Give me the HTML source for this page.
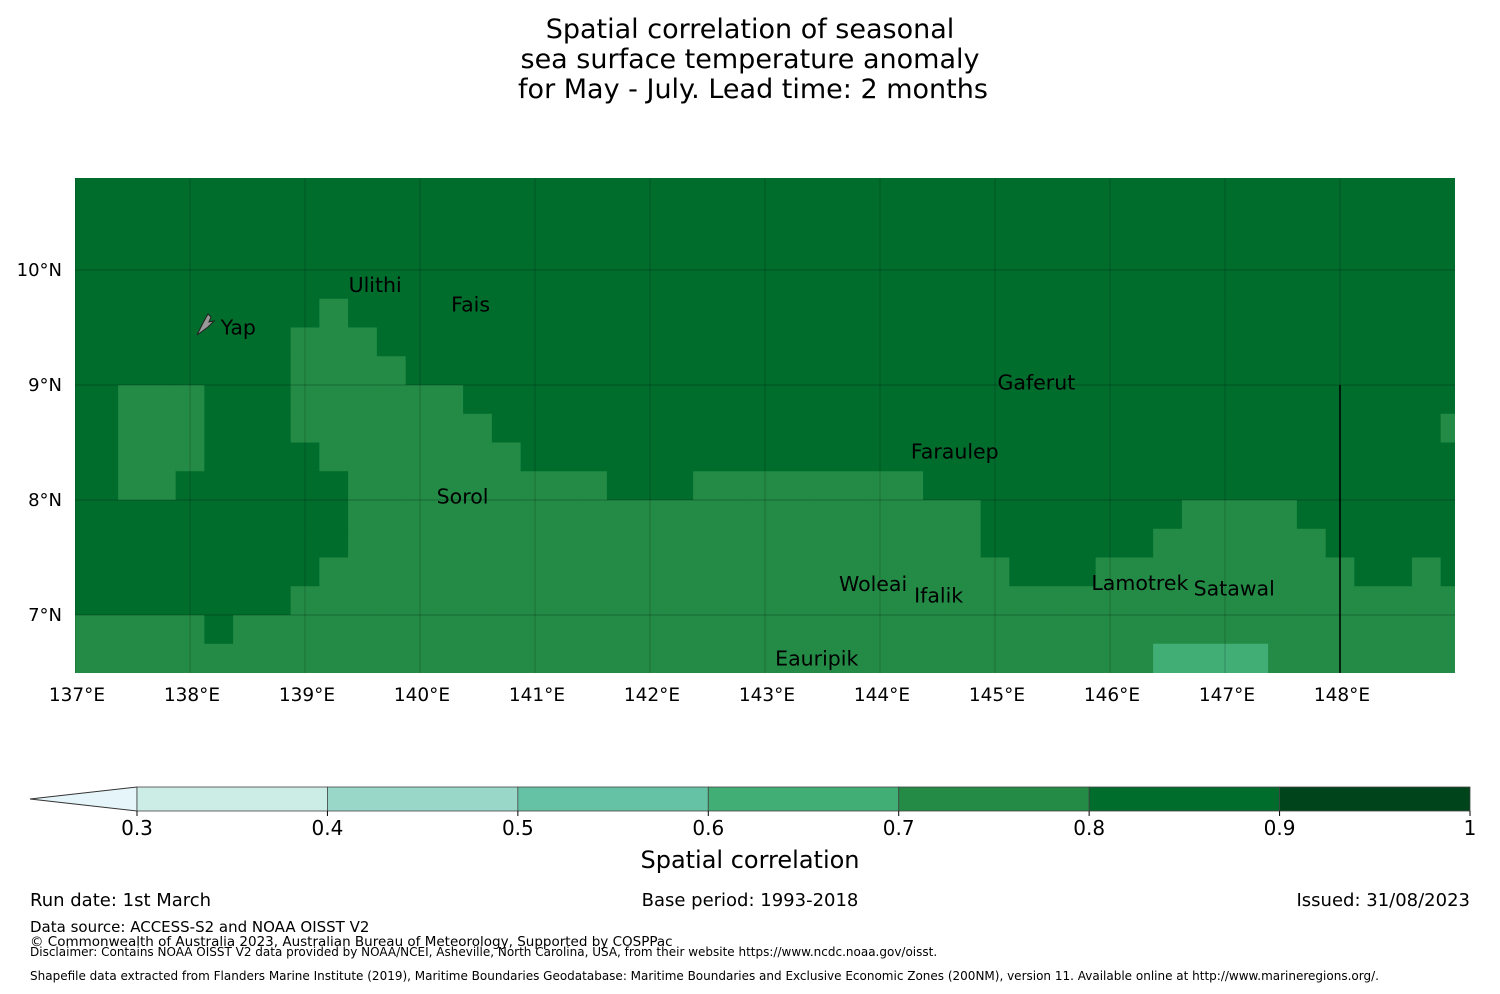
<!DOCTYPE html>
<html><head><meta charset="utf-8"><style>
body{margin:0;background:#fff;width:1500px;height:990px;overflow:hidden;font-family:"DejaVu Sans","Liberation Sans",sans-serif}
svg text{font-family:"DejaVu Sans","Liberation Sans",sans-serif}
</style></head><body>
<svg id="chart" width="1500" height="990">
<text x="750" y="38" font-size="27" text-anchor="middle">Spatial correlation of seasonal</text>
<text x="750" y="68" font-size="27" text-anchor="middle">sea surface temperature anomaly</text>
<text x="753" y="98" font-size="27" text-anchor="middle">for May - July. Lead time: 2 months</text>
<defs><clipPath id="mc"><rect x="75" y="178" width="1380" height="495"/></clipPath></defs>
<g id="cells" clip-path="url(#mc)"></g>
<g id="grid" clip-path="url(#mc)"></g>
<g id="axes"></g>
<g id="islands"></g>
<g id="cbar"></g>
<text x="750" y="868" font-size="24" text-anchor="middle">Spatial correlation</text>
<text x="30" y="906" font-size="18">Run date: 1st March</text>
<text x="750" y="906" font-size="18" text-anchor="middle">Base period: 1993-2018</text>
<text x="1470" y="906" font-size="18" text-anchor="end">Issued: 31/08/2023</text>
<text x="30" y="932" font-size="15">Data source: ACCESS-S2 and NOAA OISST V2</text>
<text x="30" y="946" font-size="13.5">© Commonwealth of Australia 2023, Australian Bureau of Meteorology, Supported by COSPPac</text>
<text x="30" y="956" font-size="12">Disclaimer: Contains NOAA OISST V2 data provided by NOAA/NCEI, Asheville, North Carolina, USA, from their website https://www.ncdc.noaa.gov/oisst.</text>
<text x="30" y="980" font-size="12">Shapefile data extracted from Flanders Marine Institute (2019), Maritime Boundaries Geodatabase: Maritime Boundaries and Exclusive Economic Zones (200NM), version 11. Available online at http://www.marineregions.org/.</text>
</svg>
<script>
// rows from lat 11.0 down to 6.5 (0.25°), cols centred 137.0..149.0 (0.25°); digit d => value d/10+0.05
const rowCodes = [
"8888888888888888888888888888888888888888888888888",
"8888888888888888888888888888888888888888888888888",
"8888888888888888888888888888888888888888888888888",
"8888888888888888888888888888888888888888888888888",
"8888888888888888888888888888888888888888888888888",
"8888888887888888888888888888888888888888888888888",
"8888888877788888888888888888888888888888888888888",
"8888888877778888888888888888888888888888888888888",
"8877788877777788888888888888888888888888888888888",
"8877788877777778888888888888888888888888888888887",
"8877788887777777888888888888888888888888888888888",
"88"+"77"+"888888"+"777777777"+"888"+"77777777"+"8888888888888888888",
"8888888888"+"7777777777777777777777"+"8888888"+"7777"+"888888",
"8888888888"+"7777777777777777777777"+"888888"+"777777"+"88888",
"888888888"+"777777777777777777777777"+"888"+"777777777"+"88"+"7"+"8",
"88888888"+"77777777777777777777777777777777777777777",
"77777"+"8"+"7777777777777777777777777777777777777777777",
"77777777777777777777777777777777777777"+"6666"+"7777777"];
const levels = [0.3,0.4,0.5,0.6,0.7,0.8,0.9,1.0];
const levelColors = ["#ccece6","#99d8c9","#66c2a4","#41ae76","#238b45","#006d2c","#00441b"];
const lonTicks = [137,138,139,140,141,142,143,144,145,146,147,148];
const latTicks = [10,9,8,7];
const islandNames = ["Ulithi","Fais","Yap","Gaferut","Faraulep","Sorol","Woleai","Ifalik","Lamotrek","Satawal","Eauripik"];
const islandLon = [139.61,140.44,138.42,145.36,144.65,140.37,143.94,144.51,146.26,147.08,143.45];
const islandLat = [9.87,9.70,9.50,9.02,8.42,8.03,7.27,7.17,7.28,7.23,6.62];
const cells = rowCodes.map(r => r.split("").map(c => +c/10 + 0.05));
const X = lon => 75 + (lon-137)*115;
const Y = lat => 270 - (lat-10)*115;
const NS="http://www.w3.org/2000/svg";
function mk(t,a,p){const e=document.createElementNS(NS,t);for(const k in a)e.setAttribute(k,a[k]);p.appendChild(e);return e;}
function colorFor(v){for(let i=0;i<levels.length-1;i++)if(v>=levels[i]&&v<levels[i+1])return levelColors[i];return levelColors[6];}
const cg=document.getElementById("cells");
cells.forEach((row,i)=>row.forEach((v,j)=>{
 const lat=11-0.25*i, lon=137+0.25*j;
 const r=mk("rect",{x:X(lon-0.125),y:Y(lat),width:28.75+0.6,height:28.75+0.6,fill:colorFor(v)},cg);
 
 
}));
const gg=document.getElementById("grid");
lonTicks.forEach(l=>mk("line",{x1:X(l),x2:X(l),y1:178,y2:673,stroke:"rgba(0,0,0,0.2)","stroke-width":1},gg));
latTicks.forEach(l=>mk("line",{x1:75,x2:1455,y1:Y(l),y2:Y(l),stroke:"rgba(0,0,0,0.25)","stroke-width":1},gg));
mk("line",{x1:X(148),x2:X(148),y1:Y(9),y2:673,stroke:"#000","stroke-width":1.5},gg);
const ag=document.getElementById("axes");
lonTicks.forEach(l=>{const t=mk("text",{x:X(l)+2,y:701,"font-size":18.5,"text-anchor":"middle"},ag);t.textContent=l+"°E";
 
 });
latTicks.forEach(l=>{const t=mk("text",{x:62,y:Y(l)+6,"font-size":18,"text-anchor":"end"},ag);t.textContent=l+"°N";
 
 });
const ig=document.getElementById("islands");
mk("path",{d:"M197,335 L203,323 L208,314 L211,317 L209,322 L214,321 L208,327 Z",fill:"#999",stroke:"#222","stroke-width":1},ig);
islandNames.forEach((n,i)=>{const t=mk("text",{x:X(islandLon[i]),y:Y(islandLat[i])+7,"font-size":20.5,"text-anchor":"middle"},ig);t.textContent=n;
 
 });
const bg=document.getElementById("cbar");
const CX=v=>137+(v-0.3)/0.7*1333;
mk("polygon",{points:"30,799 137,787 137,811",fill:"#e5f5f9",stroke:"#333","stroke-width":1},bg);
for(let i=0;i<levelColors.length;i++){const r=mk("rect",{x:CX(levels[i]),y:787,width:CX(levels[i+1])-CX(levels[i]),height:24,fill:levelColors[i],stroke:"#444","stroke-width":0.8},bg);
 
 }
levels.forEach(v=>{mk("line",{x1:CX(v),x2:CX(v),y1:811,y2:816,stroke:"#000"},bg);
 const t=mk("text",{x:CX(v),y:835,"font-size":20,"text-anchor":"middle"},bg);t.textContent=(v===1?"1":v.toFixed(1));
 
 });
</script>
</body></html>
